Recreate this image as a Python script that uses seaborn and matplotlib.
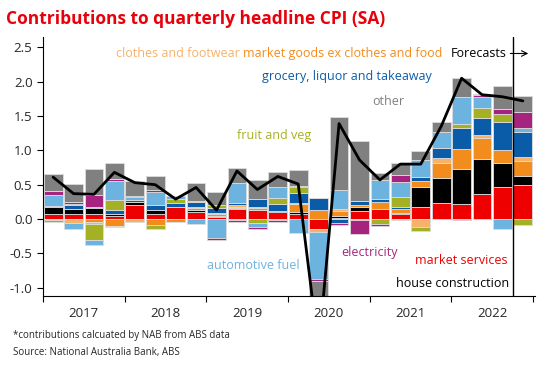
import numpy as np
import pandas as pd
import seaborn as sns
import matplotlib.pyplot as plt

# quarterly contributions to headline CPI (ppt), 2017Q1 - 2022Q4
quarters = [f"{y}Q{q}" for y in range(2017, 2023) for q in range(1, 5)]
years = ["2017", "2018", "2019", "2020", "2021", "2022"]

market_services = [0.08, 0.08, 0.08, 0.04, 0.21, 0.07, 0.17, 0.10, 0.03, 0.15, 0.13, 0.10,
                   0.08, -0.14, 0.02, 0.12, 0.15, 0.08, 0.17, 0.24, 0.22, 0.36, 0.46, 0.50]
house_construction = [0.09, 0.07, 0.08, 0.03, 0.04, 0.06, 0.01, 0.03, 0.01, 0.01, 0.005, 0.02,
                      0.025, 0.0, 0.03, 0.06, 0.0, 0.01, 0.29, 0.36, 0.51, 0.52, 0.36, 0.13]
market_goods = [0.0, 0.0, -0.045, -0.10, 0.0, -0.09, -0.04, 0.03, 0.035, 0.02, 0.02, -0.02,
                0.12, 0.13, 0.06, 0.02, 0.10, 0.05, 0.10, 0.21, 0.29, 0.30, 0.18, 0.21]
clothes = [-0.02, -0.06, -0.03, -0.015, -0.04, 0.0, -0.01, 0.02, 0.01, 0.02, 0.02, 0.0,
           0.01, -0.05, 0.04, 0.0, 0.0, -0.02, -0.12, 0.08, 0.0, 0.05, 0.0, 0.07]
grocery = [0.025, 0.05, 0.02, 0.06, 0.03, 0.07, 0.06, 0.07, 0.07, 0.03, 0.12, 0.10,
           0.15, 0.17, -0.06, 0.06, 0.045, 0.03, 0.045, 0.14, 0.30, 0.24, 0.41, 0.35]
fruit_veg = [-0.03, 0.025, -0.23, 0.15, 0.0, -0.05, 0.05, 0.01, 0.05, -0.02, -0.06, 0.08,
             0.08, 0.01, 0.0, -0.02, -0.07, 0.15, -0.06, 0.0, 0.07, 0.14, 0.12, -0.09]
auto_fuel = [0.16, -0.08, -0.07, 0.28, 0.035, 0.20, 0.04, -0.07, -0.28, 0.30, -0.06, 0.16,
             -0.21, -0.68, 0.28, 0.0, 0.27, 0.22, 0.26, 0.24, 0.39, 0.17, -0.15, 0.07]
electricity = [0.05, 0.03, 0.17, 0.02, 0.015, 0.02, 0.0, 0.01, -0.03, -0.02, -0.02, -0.02,
               0.015, -0.03, -0.02, -0.20, -0.03, 0.10, 0.0, 0.0, -0.02, 0.02, 0.07, 0.23]
other = [0.25, 0.25, 0.38, 0.23, 0.23, 0.21, 0.0, 0.26, 0.19, 0.22, 0.27, 0.23,
         0.24, -1.31, 1.06, 0.87, 0.10, 0.17, 0.13, 0.15, 0.28, 0.02, 0.33, 0.23]
headline = [0.61, 0.37, 0.36, 0.68, 0.53, 0.50, 0.29, 0.46, 0.13, 0.70, 0.43, 0.62,
            0.51, -1.90, 1.39, 0.86, 0.57, 0.80, 0.80, 1.35, 2.05, 1.81, 1.78, 1.72]

components = [
    ("market services", market_services, "#ee0000"),
    ("house construction", house_construction, "#000000"),
    ("market goods ex clothes and food", market_goods, "#f28c1c"),
    ("clothes and footwear", clothes, "#f6b26b"),
    ("grocery, liquor and takeaway", grocery, "#0b5ca8"),
    ("fruit and veg", fruit_veg, "#a5b124"),
    ("automotive fuel", auto_fuel, "#6db3e0"),
    ("electricity", electricity, "#a6247f"),
    ("other", other, "#808080"),
]

sns.set_style("ticks")
plt.rcParams['font.family'] = ['Open Sans', 'DejaVu Sans']

fig = plt.figure(figsize=(5.5, 3.7), dpi=100)
ax = fig.add_axes([0.078, 0.2, 0.895, 0.7])

x = np.arange(len(quarters))
pos = np.zeros(len(x))
neg = np.zeros(len(x))
for name, vals, col in components:
    v = np.array(vals)
    base = np.where(v >= 0, pos, neg)
    ax.bar(x, v, bottom=base, width=0.92, color=col, edgecolor="#dcdcdc", linewidth=0.6)
    pos = pos + np.where(v >= 0, v, 0)
    neg = neg + np.where(v < 0, v, 0)

line_df = pd.DataFrame({"x": x, "headline": headline})
sns.lineplot(data=line_df, x="x", y="headline", color="black", linewidth=2, ax=ax)

# forecast divider
ax.axvline(22.5, color="black", linewidth=1)

ax.set_xlim(-0.5, 23.6)
ax.set_ylim(-1.12, 2.65)
yt = [-1.0, -0.5, 0.0, 0.5, 1.0, 1.5, 2.0, 2.5]
ax.set_yticks(yt)
ax.set_yticklabels([f"{t:.1f}" for t in yt], fontsize=9.5)
ax.set_xticks(np.arange(-0.5, 24, 4))
ax.set_xticklabels([])
ax.set_xticks(np.arange(1.5, 24, 4), minor=True)
ax.set_xticklabels(years, minor=True, fontsize=9.5)
ax.tick_params(axis="x", which="minor", length=0, pad=8)
ax.tick_params(axis="both", which="major", length=4, color="black")
ax.set_xlabel("")
ax.set_ylabel("")
for s in ["top", "right"]:
    ax.spines[s].set_visible(False)
ax.spines["left"].set_color("black")
ax.spines["bottom"].set_color("black")

lab = dict(fontsize=9, ha="center", va="center")
ax.text(6.13, 2.41, "clothes and footwear", color="#f6b26b", **lab)
ax.text(14.2, 2.41, "market goods ex clothes and food", color="#f28c1c", **lab)
ax.text(20.85, 2.41, "Forecasts", color="black", **lab)
ax.annotate("", xy=(23.4, 2.41), xytext=(22.25, 2.41),
            arrowprops=dict(arrowstyle="->", color="black", lw=0.8))
ax.text(14.37, 2.08, "grocery, liquor and takeaway", color="#0b5ca8", **lab)
ax.text(16.43, 1.715, "other", color="#808080", **lab)
ax.text(10.84, 1.22, "fruit and veg", color="#a5b124", **lab)
ax.text(9.8, -0.68, "automotive fuel", color="#6db3e0", **lab)
ax.text(15.5, -0.48, "electricity", color="#a6247f", **lab)
ax.text(20.0, -0.61, "market services", color="#ee0000", **lab)
ax.text(19.57, -0.945, "house construction", color="black", **lab)

fig.text(0.01, 0.95, "Contributions to quarterly headline CPI (SA)", color="#e8000b",
         fontsize=12.5, fontweight="bold", va="center")
fig.text(0.024, 0.092, "*contributions calcuated by NAB from ABS data", fontsize=7, va="center")
fig.text(0.024, 0.048, "Source: National Australia Bank, ABS", fontsize=7, va="center")

fig.savefig("out.png", dpi=100)
